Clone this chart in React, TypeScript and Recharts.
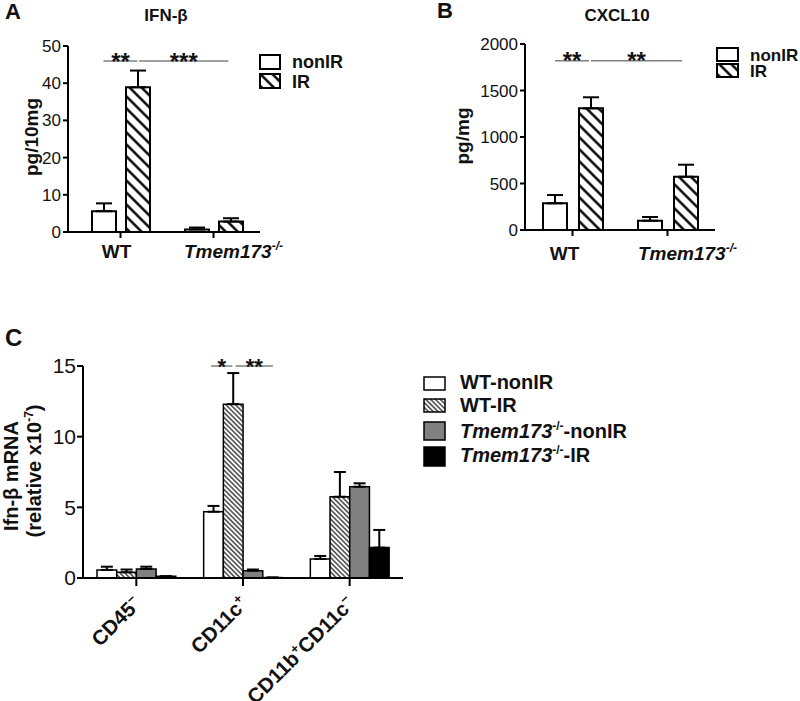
import { BarChart, Bar, XAxis, YAxis, ErrorBar, ReferenceLine } from 'recharts'

const FONT = "'Liberation Sans', Arial, Helvetica, sans-serif"

// Panel A / B: genotype groups
const genotypes = ['WT', 'Tmem173']
const ifnNonIR = [5.6, 0.7]
const ifnNonIRErr = [2.1, 0.5]
const ifnIR = [38.9, 2.8]
const ifnIRErr = [4.5, 0.9]
const ifnTicks = [0, 10, 20, 30, 40, 50]

const cxclNonIR = [287, 100]
const cxclNonIRErr = [89, 40]
const cxclIR = [1308, 573]
const cxclIRErr = [119, 129]
const cxclTicks = [0, 500, 1000, 1500, 2000]

// Panel C: sorted cell types
const cellTypes = ['CD45-', 'CD11c+', 'CD11b+CD11c-']
const wtNonIR = [0.57, 4.69, 1.35]
const wtNonIRErr = [0.23, 0.41, 0.21]
const wtIR = [0.4, 12.3, 5.75]
const wtIRErr = [0.2, 2.2, 1.75]
const koNonIR = [0.64, 0.52, 6.46]
const koNonIRErr = [0.16, 0.08, 0.24]
const koIR = [0.12, 0.03, 2.15]
const koIRErr = [0, 0, 1.25]
const mrnaTicks = [0, 5, 10, 15]

// significance brackets (x in category units: category i spans i..i+1)
const sigA = [
  { from: 0.317, to: 0.683, y: 46, text: '**' },
  { from: 0.7, to: 1.66, y: 46, text: '***' }
]
const sigB = [
  { from: 0.316, to: 0.674, y: 1820, text: '**' },
  { from: 0.695, to: 1.653, y: 1820, text: '**' }
]
const sigC = [
  { from: 1.2, to: 1.4, y: 15, text: '*' },
  { from: 1.43, to: 1.78, y: 15, text: '**' }
]

const dataA = genotypes.map((g, i) => ({
  group: g,
  slot: i + 0.5,
  nonIR: ifnNonIR[i],
  nonIRErr: [0, ifnNonIRErr[i]],
  IR: ifnIR[i],
  IRErr: [0, ifnIRErr[i]]
}))

const dataB = genotypes.map((g, i) => ({
  group: g,
  slot: i + 0.5,
  nonIR: cxclNonIR[i],
  nonIRErr: [0, cxclNonIRErr[i]],
  IR: cxclIR[i],
  IRErr: [0, cxclIRErr[i]]
}))

const dataC = cellTypes.map((c, i) => ({
  cell: c,
  slot: i + 0.5,
  wtNonIR: wtNonIR[i],
  wtNonIRErr: [0, wtNonIRErr[i]],
  wtIR: wtIR[i],
  wtIRErr: [0, wtIRErr[i]],
  koNonIR: koNonIR[i],
  koNonIRErr: [0, koNonIRErr[i]],
  koIR: koIR[i],
  koIRErr: [0, koIRErr[i]]
}))

function starLabel(text: string, size: number) {
  return (props: any) => {
    const vb = props.viewBox || { x: 0, y: 0, width: 0 }
    const cx = vb.x + (vb.width || 0) / 2
    return (
      <text x={cx} y={vb.y + size * 0.36} textAnchor="middle" fontSize={size} fontWeight="bold" fontFamily={FONT} fill="#111">
        {text}
      </text>
    )
  }
}

function GenoTick(props: any) {
  const { x, y, payload, base = 18, wtShift = -4 } = props
  if (payload.value === 'WT') {
    return (
      <text x={x + wtShift} y={y + base} textAnchor="middle" fontSize={19} fontWeight="bold" fontFamily={FONT} fill="#111">
        WT
      </text>
    )
  }
  return (
    <text x={x + 20} y={y + base} textAnchor="middle" fontSize={19} fontWeight="bold" fontStyle="italic" fontFamily={FONT} fill="#111">
      Tmem173<tspan dy={-8} fontSize={12}>-/-</tspan>
    </text>
  )
}

function CellTick(props: any) {
  const { x, y, payload } = props
  const parts: { t: string; sup: boolean }[] = []
  const re = /([^+-]+)([+-])/g
  let m
  while ((m = re.exec(payload.value)) !== null) {
    parts.push({ t: m[1], sup: false })
    parts.push({ t: m[2] === '-' ? '\u2212' : '+', sup: true })
  }
  const spans: any[] = []
  let raised = false
  parts.forEach((p, i) => {
    let dy = 0
    if (p.sup && !raised) { dy = -8; raised = true }
    if (!p.sup && raised) { dy = 8; raised = false }
    spans.push(
      <tspan key={i} dy={dy} fontSize={p.sup ? 13 : 20.5}>{p.t}</tspan>
    )
  })
  return (
    <g transform={`translate(${x + 6},${y + 17})`}>
      <text transform="rotate(-45)" textAnchor="end" fontWeight="bold" fontFamily={FONT} fill="#111">
        {spans}
      </text>
    </g>
  )
}

const axisStyle = { stroke: '#000', strokeWidth: 2 }

function GenotypeChart({ data, width, ticks, max, sig, gap, pad, wtShift, base, margin }: any) {
  return (
    <BarChart width={width} height={300} data={data} margin={margin} barGap={gap} barSize={24}>
      <XAxis
        dataKey="group"
        height={30}
        padding={{ left: pad, right: 0 }}
        interval={0}
        tickSize={6}
        axisLine={axisStyle}
        tickLine={axisStyle}
        tick={<GenoTick base={base} wtShift={wtShift} />}
      />
      <XAxis xAxisId="n" dataKey="slot" type="number" domain={[0, 2]} hide padding={{ left: pad, right: 0 }} allowDataOverflow />
      <YAxis
        domain={[0, max]}
        ticks={ticks}
        interval={0}
        width={60}
        tickSize={5}
        tickMargin={2}
        axisLine={axisStyle}
        tickLine={axisStyle}
        tick={{ fontSize: 17, fill: '#111', fontFamily: FONT }}
      />
      <Bar dataKey="nonIR" fill="#fff" stroke="#000" strokeWidth={2} isAnimationActive={false}>
        <ErrorBar dataKey="nonIRErr" width={8} stroke="#000" strokeWidth={2} />
      </Bar>
      <Bar dataKey="IR" fill="url(#hatchAB)" stroke="#000" strokeWidth={2} isAnimationActive={false}>
        <ErrorBar dataKey="IRErr" width={8} stroke="#000" strokeWidth={2} />
      </Bar>
      {sig.map((s: any, i: number) => (
        <ReferenceLine
          key={i}
          xAxisId="n"
          segment={[{ x: s.from, y: s.y }, { x: s.to, y: s.y }]}
          stroke="#808080"
          strokeWidth={1.5}
          ifOverflow="visible"
          label={starLabel(s.text, 24)}
        />
      ))}
    </BarChart>
  )
}

export default function App() {
  const text = { fontFamily: FONT, fontWeight: 'bold' as const, fill: '#111' }
  return (
    <div style={{ position: 'absolute', left: 0, top: 0, width: 800, height: 701, overflow: 'hidden', background: '#fff' }}>
      <svg width={0} height={0} style={{ position: 'absolute' }}>
        <defs>
          <pattern id="hatchAB" patternUnits="userSpaceOnUse" width={8.5} height={8.5} patternTransform="rotate(45)">
            <rect width={8.5} height={8.5} fill="#fff" />
            <line x1={0} y1={4.25} x2={8.5} y2={4.25} stroke="#000" strokeWidth={2.4} />
          </pattern>
          <pattern id="hatchC" patternUnits="userSpaceOnUse" width={3.4} height={3.4} patternTransform="rotate(45)">
            <rect width={3.4} height={3.4} fill="#fff" />
            <line x1={0} y1={1.7} x2={3.4} y2={1.7} stroke="#000" strokeWidth={1.1} />
          </pattern>
        </defs>
      </svg>

      {/* Panel A */}
      <div style={{ position: 'absolute', left: 0, top: 0 }}>
        <GenotypeChart
          data={dataA}
          width={300}
          ticks={ifnTicks}
          max={50}
          sig={sigA}
          gap={10}
          pad={6}
          wtShift={-4}
          base={18}
          margin={{ top: 46, right: 40, bottom: 38, left: 8 }}
        />
      </div>

      {/* Panel B */}
      <div style={{ position: 'absolute', left: 400, top: 0 }}>
        <GenotypeChart
          data={dataB}
          width={400}
          ticks={cxclTicks}
          max={2000}
          sig={sigB}
          gap={12}
          pad={0}
          wtShift={-8}
          base={22}
          margin={{ top: 44, right: 85, bottom: 40, left: 65 }}
        />
      </div>

      {/* Panel C */}
      <div style={{ position: 'absolute', left: 0, top: 340 }}>
        <BarChart
          width={420}
          height={361}
          data={dataC}
          margin={{ top: 26, right: 17, bottom: 13, left: 13 }}
          barGap={0}
          barSize={19.7}
        >
          <XAxis
            dataKey="cell"
            height={110}
            interval={0}
            tickSize={8}
            axisLine={axisStyle}
            tickLine={axisStyle}
            tick={<CellTick />}
          />
          <XAxis xAxisId="n" dataKey="slot" type="number" domain={[0, 3]} hide allowDataOverflow />
          <YAxis
            domain={[0, 15]}
            ticks={mrnaTicks}
            interval={0}
            width={70}
            tickSize={6}
            tickMargin={1}
            axisLine={axisStyle}
            tickLine={axisStyle}
            tick={{ fontSize: 21, fill: '#111', fontFamily: FONT }}
          />
          <Bar dataKey="wtNonIR" fill="#fff" stroke="#000" strokeWidth={1.5} isAnimationActive={false}>
            <ErrorBar dataKey="wtNonIRErr" width={6} stroke="#000" strokeWidth={2} />
          </Bar>
          <Bar dataKey="wtIR" fill="url(#hatchC)" stroke="#000" strokeWidth={1.5} isAnimationActive={false}>
            <ErrorBar dataKey="wtIRErr" width={6} stroke="#000" strokeWidth={2} />
          </Bar>
          <Bar dataKey="koNonIR" fill="#808080" stroke="#000" strokeWidth={1.5} isAnimationActive={false}>
            <ErrorBar dataKey="koNonIRErr" width={6} stroke="#000" strokeWidth={2} />
          </Bar>
          <Bar dataKey="koIR" fill="#000" stroke="#000" strokeWidth={1.5} isAnimationActive={false}>
            <ErrorBar dataKey="koIRErr" width={6} stroke="#000" strokeWidth={2} />
          </Bar>
          {sigC.map((s, i) => (
            <ReferenceLine
              key={i}
              xAxisId="n"
              segment={[{ x: s.from, y: s.y }, { x: s.to, y: s.y }]}
              stroke="#808080"
              strokeWidth={1.5}
              ifOverflow="visible"
              label={starLabel(s.text, 22)}
            />
          ))}
        </BarChart>
      </div>

      {/* titles, axis titles, legends */}
      <svg width={800} height={701} style={{ position: 'absolute', left: 0, top: 0, pointerEvents: 'none' }}>
        <text x={5} y={19} fontSize={22} {...text}>A</text>
        <text x={437} y={18} fontSize={22} {...text}>B</text>
        <text x={5} y={346} fontSize={24} {...text}>C</text>

        <text x={166} y={21} fontSize={17} textAnchor="middle" {...text}>IFN-β</text>
        <text x={617} y={21} fontSize={17} textAnchor="middle" {...text}>CXCL10</text>

        <text transform="translate(38,137) rotate(-90)" fontSize={19} textAnchor="middle" {...text}>pg/10mg</text>
        <text transform="translate(469,136) rotate(-90)" fontSize={19} textAnchor="middle" {...text}>pg/mg</text>
        <text transform="translate(18,476) rotate(-90)" fontSize={20} textAnchor="middle" {...text}>Ifn-β mRNA</text>
        <text transform="translate(41,471) rotate(-90)" fontSize={20} textAnchor="middle" {...text}>
          (relative x10<tspan dy={-8} fontSize={12}>-7</tspan><tspan dy={8}>)</tspan>
        </text>

        {/* legend A */}
        <rect x={260} y={55} width={20} height={14} fill="#fff" stroke="#000" strokeWidth={2} />
        <text x={292} y={68} fontSize={18} {...text}>nonIR</text>
        <rect x={260} y={74} width={20} height={14} fill="url(#hatchAB)" stroke="#000" strokeWidth={2} />
        <text x={292} y={88} fontSize={18} {...text}>IR</text>

        {/* legend B */}
        <rect x={717} y={48} width={21} height={13} fill="#fff" stroke="#000" strokeWidth={2} />
        <text x={750} y={61} fontSize={17} {...text}>nonIR</text>
        <rect x={717} y={64} width={21} height={13} fill="url(#hatchAB)" stroke="#000" strokeWidth={2} />
        <text x={750} y={77} fontSize={17} {...text}>IR</text>

        {/* legend C */}
        <rect x={424} y={377} width={21} height={13} fill="#fff" stroke="#000" strokeWidth={1.5} />
        <text x={460} y={389} fontSize={20} {...text}>WT-nonIR</text>
        <rect x={424} y={399} width={21} height={13} fill="url(#hatchC)" stroke="#000" strokeWidth={1.5} />
        <text x={460} y={412} fontSize={20} {...text}>WT-IR</text>
        <rect x={424} y={422} width={21} height={18} fill="#808080" stroke="#000" strokeWidth={1.5} />
        <text x={460} y={438} fontSize={20} {...text}>
          <tspan fontStyle="italic">Tmem173</tspan><tspan dy={-8} fontSize={12}>-/-</tspan><tspan dy={8}>-nonIR</tspan>
        </text>
        <rect x={424} y={447} width={21} height={19} fill="#000" stroke="#000" strokeWidth={1.5} />
        <text x={460} y={462} fontSize={20} {...text}>
          <tspan fontStyle="italic">Tmem173</tspan><tspan dy={-8} fontSize={12}>-/-</tspan><tspan dy={8}>-IR</tspan>
        </text>
      </svg>
    </div>
  )
}
